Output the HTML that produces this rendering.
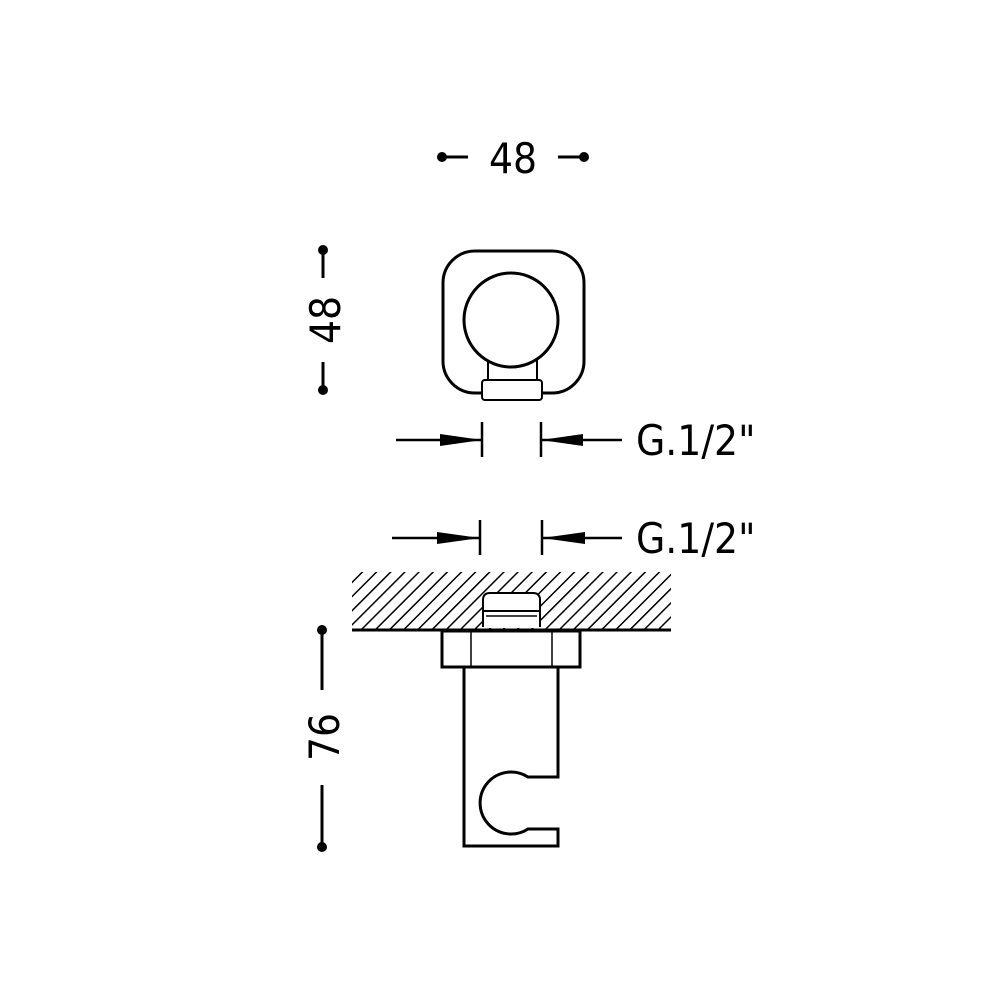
<!DOCTYPE html>
<html><head><style>body{margin:0;background:#fff}svg{display:block}</style></head><body>
<svg width="1000" height="1000" viewBox="0 0 1000 1000" xmlns="http://www.w3.org/2000/svg">
<defs>
<pattern id="h" patternUnits="userSpaceOnUse" width="10" height="10" patternTransform="rotate(45)">
<line x1="0" y1="0" x2="0" y2="10" stroke="#000" stroke-width="3"/>
</pattern>
</defs>
<g font-family="'DejaVu Sans Condensed','Liberation Sans Narrow','Liberation Sans',sans-serif" font-size="42" fill="#000">
<circle cx="442" cy="157" r="5"/><circle cx="584" cy="157" r="5"/>
<line x1="442" y1="157" x2="468" y2="157" stroke="#000" stroke-width="3"/>
<line x1="558" y1="157" x2="584" y2="157" stroke="#000" stroke-width="3"/>
<text x="513" y="173" text-anchor="middle">48</text>
<circle cx="323" cy="250" r="5"/><circle cx="323" cy="390" r="5"/>
<line x1="323" y1="250" x2="323" y2="278" stroke="#000" stroke-width="3"/>
<line x1="323" y1="362" x2="323" y2="390" stroke="#000" stroke-width="3"/>
<text transform="translate(340,320) rotate(-90)" text-anchor="middle">48</text>
<circle cx="322" cy="630" r="5"/><circle cx="322" cy="847" r="5"/>
<line x1="322" y1="630" x2="322" y2="690" stroke="#000" stroke-width="3"/>
<line x1="322" y1="785" x2="322" y2="847" stroke="#000" stroke-width="3"/>
<text transform="translate(339,737) rotate(-90)" text-anchor="middle">76</text>
<g stroke="#000" stroke-width="2.5">
<line x1="396" y1="440" x2="482" y2="440"/><line x1="482" y1="422" x2="482" y2="457"/>
<line x1="541" y1="440" x2="622" y2="440"/><line x1="541" y1="422" x2="541" y2="457"/>
<line x1="392" y1="538" x2="480" y2="538"/><line x1="480" y1="520" x2="480" y2="555"/>
<line x1="542" y1="538" x2="622" y2="538"/><line x1="542" y1="520" x2="542" y2="555"/>
</g>
<polygon points="440,434 482,440 440,446"/><polygon points="583,434 541,440 583,446"/>
<polygon points="437,532 480,538 437,544"/><polygon points="585,532 542,538 585,544"/>
<text x="636" y="455">G.1/2"</text>
<text x="636" y="553">G.1/2"</text>
</g>
<g fill="none" stroke="#000" stroke-width="3">
<rect x="443" y="251" width="141" height="142" rx="32"/>
<rect x="488" y="358" width="49" height="24" fill="#fff" stroke-width="2"/>
<circle cx="511" cy="320" r="47" fill="#fff"/>
<rect x="482" y="380" width="60" height="20" rx="3" fill="#fff" stroke-width="2"/>
<rect x="352" y="572" width="319" height="58" fill="url(#h)" stroke="none"/>
<line x1="352" y1="630" x2="671" y2="630"/>
<path d="M483,628 V600 Q483,593 490,593 H533 Q540,593 540,600 V628 Z" fill="#fff" stroke="none"/>
<path d="M483,627 V600 Q483,593 490,593 H533 Q540,593 540,600 V627" fill="#fff" stroke-width="2"/>
<line x1="483" y1="611" x2="540" y2="611" stroke-width="2"/>
<line x1="486" y1="616" x2="537" y2="616" stroke-width="1.5"/>
<rect x="442" y="631" width="138" height="36" fill="#fff"/>
<line x1="471" y1="631" x2="471" y2="667" stroke-width="1.5"/>
<line x1="552" y1="631" x2="552" y2="667" stroke-width="1.5"/>
<path d="M464,667 V846 H558 V829 H528 A31,31 0 1 1 528,777 H558 V667"/>
</g>
</svg>
</body></html>
